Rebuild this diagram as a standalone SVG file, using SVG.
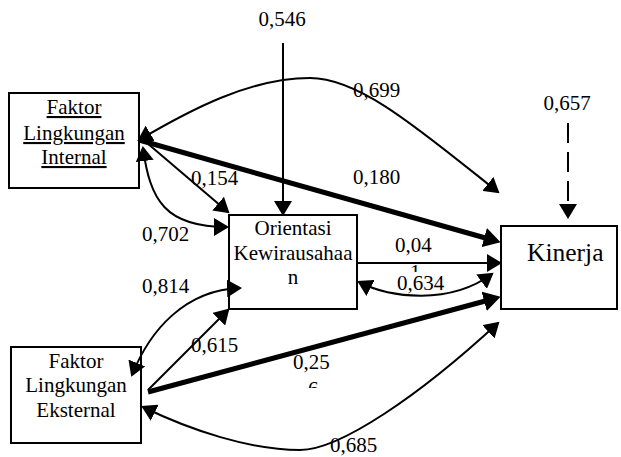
<svg xmlns="http://www.w3.org/2000/svg" width="621" height="457" viewBox="0 0 621 457">
<style>
text{font-family:"Times New Roman","Liberation Serif",Times,"Noto Serif","DejaVu Serif",FreeSerif,serif;font-size:21px;fill:#000}
.box{fill:#fff;stroke:#000;stroke-width:2}
.ln{fill:none;stroke:#000;stroke-width:2}
.thick{fill:none;stroke:#000;stroke-width:5}
.mid{text-anchor:middle}
</style>
<defs>
<marker id="ah" markerUnits="userSpaceOnUse" markerWidth="16" markerHeight="18" refX="13" refY="9" orient="auto-start-reverse" viewBox="0 0 16 18">
<path d="M0,0 L15,9 L0,18 z" fill="#000"/>
</marker>
<marker id="ahT" markerUnits="userSpaceOnUse" markerWidth="18" markerHeight="20" refX="5" refY="10" orient="auto" viewBox="0 0 18 20">
<path d="M0,0 L17,10 L0,20 z" fill="#000"/>
</marker>
<clipPath id="c1"><rect x="400" y="262" width="30" height="10"/></clipPath>
<clipPath id="c6"><rect x="300" y="379" width="30" height="9"/></clipPath>
</defs>

<g id="internal">
<rect class="box" x="9" y="93" width="130" height="95"/>
<text class="mid" x="74" y="114" text-decoration="underline">Faktor</text>
<text class="mid" x="74" y="140" text-decoration="underline">Lingkungan</text>
<text class="mid" x="74" y="164" text-decoration="underline">Internal</text>
</g>
<g id="orientasi">
<rect class="box" x="229" y="215" width="128" height="94"/>
<text class="mid" x="293" y="235">Orientasi</text>
<text class="mid" x="293" y="260">Kewirausahaa</text>
<text class="mid" x="293" y="284">n</text>
</g>
<g id="kinerja">
<rect class="box" x="501" y="226" width="116" height="83"/>
<text x="527" y="261" style="font-size:25.5px">Kinerja</text>
</g>
<g id="eksternal">
<rect class="box" x="11" y="347" width="130" height="96"/>
<text class="mid" x="76" y="368">Faktor</text>
<text class="mid" x="76" y="392">Lingkungan</text>
<text class="mid" x="76" y="417">Eksternal</text>
</g>

<g id="connectors">
<path class="ln" d="M283,43 L283,214" marker-end="url(#ah)"/>
<path class="ln" d="M568,123 L568,217" stroke-dasharray="20 9" marker-end="url(#ah)"/>
<path class="thick" d="M139,140 L489,239" marker-end="url(#ahT)"/>
<path class="ln" d="M139,140 C190,110 250,78 310,78 C360,78 420,130 498,192" marker-start="url(#ah)" marker-end="url(#ah)"/>
<path class="ln" d="M140,137 L228,212" marker-end="url(#ah)"/>
<path class="ln" d="M143,148 C150,200 165,227 227,227" marker-start="url(#ah)" marker-end="url(#ah)"/>
<path class="ln" d="M132,375 C150,330 185,290 240,288" marker-start="url(#ah)" marker-end="url(#ah)"/>
<path class="ln" d="M148,390 L228,310" marker-end="url(#ah)"/>
<path class="thick" d="M148,392 L489,300" marker-end="url(#ahT)"/>
<path class="ln" d="M357,263 L500,263" marker-end="url(#ah)"/>
<path class="ln" d="M359,282 C390,298 450,305 492,274" marker-start="url(#ah)" marker-end="url(#ah)"/>
<path class="ln" d="M143,407 C190,430 250,450 300,450 C340,450 420,395 498,323" marker-start="url(#ah)" marker-end="url(#ah)"/>
</g>

<g id="labels">
<text class="mid" x="282" y="26">0,546</text>
<text x="353" y="97">0,699</text>
<text class="mid" x="567" y="110">0,657</text>
<text x="353" y="184">0,180</text>
<text x="191" y="185">0,154</text>
<text x="142" y="241">0,702</text>
<text x="395" y="252">0,04</text>
<text x="410" y="279" clip-path="url(#c1)">1</text>
<text x="397" y="290">0,634</text>
<text x="142" y="293">0,814</text>
<text x="191" y="352">0,615</text>
<text x="293" y="369">0,25</text>
<text x="308" y="396" clip-path="url(#c6)">6</text>
<text x="330" y="452">0,685</text>
</g>
</svg>
